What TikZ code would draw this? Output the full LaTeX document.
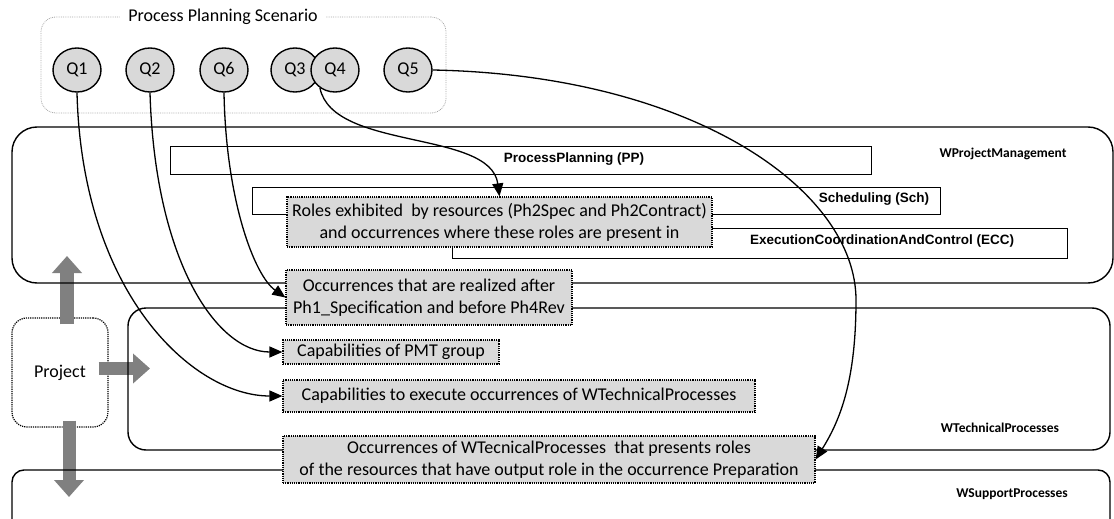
\documentclass[tikz,border=0pt]{standalone}
\usepackage{fontspec}
\setmainfont{Carlito}
\newfontfamily\arialfont{Liberation Sans}
\usetikzlibrary{arrows.meta,shapes.geometric}
\definecolor{boxgray}{HTML}{D9D9D9}
\definecolor{arrowgray}{HTML}{808080}
\definecolor{framegray}{HTML}{A6A6A6}

\begin{document}
\begin{tikzpicture}[x=1pt,y=-1pt,
  every node/.style={inner sep=0pt,font=\fontsize{18}{22}\selectfont},
  scenario/.style={draw=framegray,densely dotted,line width=0.8pt,rounded corners=15pt,minimum width=405pt,minimum height=96pt},
  query/.style={ellipse,draw,line width=1.4pt,fill=boxgray,minimum width=48pt,minimum height=44pt},
  area/.style={draw,line width=1.4pt},
  phase/.style={draw,line width=0.9pt},
  phaselabel/.style={font=\arialfont\bfseries\fontsize{13.5}{16}\selectfont},
  arealabel/.style={font=\bfseries\fontsize{13.5}{16}\selectfont},
  answer/.style={draw,densely dotted,line width=1.2pt,fill=boxgray,align=center},
  link/.style={line width=1.3pt,-{Triangle[length=13pt,width=11pt]}},
  bigarrow/.style={arrowgray,line width=14pt,-{Triangle[length=17pt,width=29pt]}}]
\useasboundingbox (0,0) rectangle (1114,519);

\node[scenario] (scen) at (243.5,65) {};
\node[fill=white,inner xsep=8pt,inner ysep=2pt] (scentitle) at (223,17) {Process Planning Scenario};
\node[query] (q1) at (77,70) {Q1};
\node[query] (q2) at (150,70) {Q2};
\node[query] (q6) at (224,70) {Q6};
\node[query] (q3) at (295,70) {Q3};
\node[query] (q4) at (335,70) {Q4};
\node[query] (q5) at (408,70) {Q5};

\node[draw,densely dotted,line width=1.2pt,rounded corners=15pt,minimum width=96pt,minimum height=109pt] (proj) at (60,372.5) {Project};
\coordinate (upend) at (67,256);
\coordinate (rightend) at (150,368.5);
\coordinate (downend) at (69,497);
\draw[bigarrow] ([xshift=7pt,yshift=-7pt]proj.north) -- (upend);
\draw[bigarrow,line width=13pt] ([xshift=-10pt,yshift=4pt]proj.east) -- (rightend);
\draw[bigarrow,line width=13pt] ([xshift=9pt,yshift=7pt]proj.south) -- (downend);

\node[area,rounded corners=25pt,minimum width=1101pt,minimum height=156pt] (wpm) at (562.5,205) {};
\node[area,rounded corners=18pt,minimum width=982pt,minimum height=142pt] (wtp) at (619,379) {};
\node[area,rounded corners=12pt,minimum width=1098pt,minimum height=100pt] (wsp) at (561,520) {};

\node[phase,minimum width=701pt,minimum height=28pt] (pp) at (520.5,160) {};
\node[phaselabel] (pplabel) at (574,159) {ProcessPlanning (PP)};
\node[phase,minimum width=688pt,minimum height=27pt] (sch) at (596,200.5) {};
\node[phaselabel] (schlabel) at (874,199) {Scheduling (Sch)};
\node[phase,minimum width=615pt,minimum height=30pt] (ecc) at (759.5,243) {};
\node[phaselabel] (ecclabel) at (882,241) {ExecutionCoordinationAndControl (ECC)};

\node[answer,minimum width=425pt,minimum height=50pt] (roles) at (499.5,222) {Roles exhibited\ \ by resources (Ph2Spec and Ph2Contract)\\and occurrences where these roles are present in};
\node[answer,minimum width=286pt,minimum height=55pt] (occ1) at (429,297.5) {Occurrences that are realized after\\Ph1\_Specification and before Ph4Rev};
\node[answer,minimum width=216pt,minimum height=24pt] (cap1) at (391,352) {Capabilities of PMT group};
\node[answer,minimum width=472pt,minimum height=32pt] (cap2) at (519,396) {Capabilities to execute occurrences of WTechnicalProcesses};
\node[answer,minimum width=532pt,minimum height=47pt] (occ3) at (549,459.5) {Occurrences of WTecnicalProcesses\ \ that presents roles\\of the resources that have output role in the occurrence Preparation};

\node[arealabel] (wpmlabel) at (1003,154) {WProjectManagement};
\node[arealabel] (wtplabel) at (1000,428) {WTechnicalProcesses};
\node[arealabel] (wsplabel) at (1012,494) {WSupportProcesses};

\draw[link] (q1.south) .. controls +(5,200) and +(-90,0) .. (cap2.west);
\draw[link] (q2.south) .. controls +(5,170) and +(-65,0) .. (cap1.west);
\draw[link] (q6.south) .. controls +(2,108) and +(-31,-22) .. (occ1.west);
\draw[link] (q4.230) .. controls +(13,63) and +(-9,-67) .. (roles.north);
\coordinate (q5bend) at (856,300);
\draw[link] (q5.east) .. controls +(260,5) and +(0,-110) .. (q5bend) .. controls +(0,80) and +(25,-40) .. (occ3.east);
\end{tikzpicture}
\end{document}
